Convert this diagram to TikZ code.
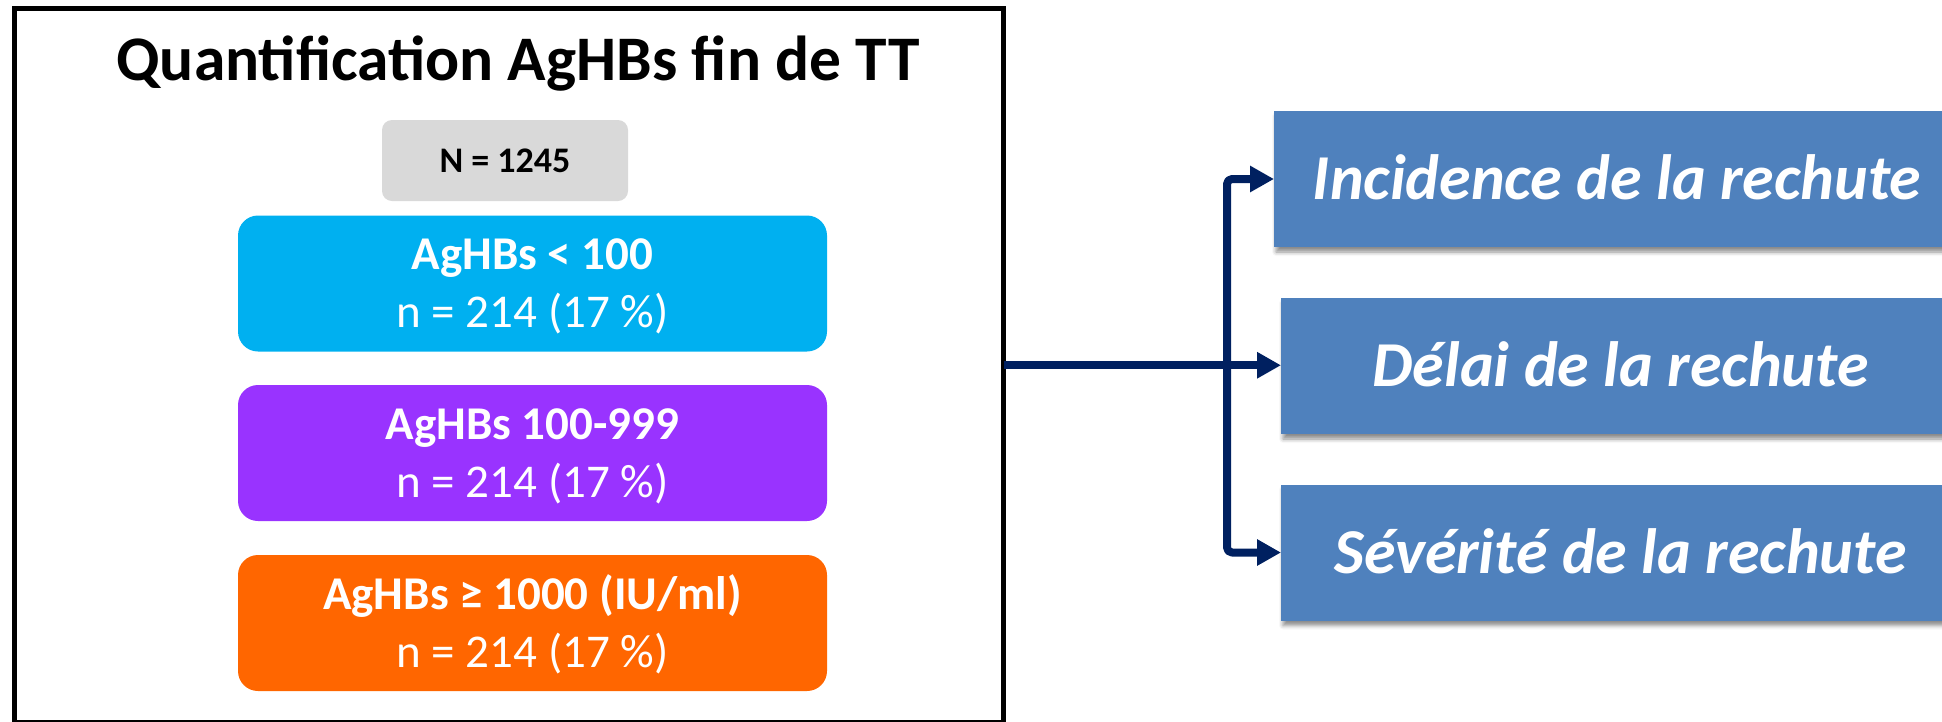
\documentclass[tikz,border=0pt]{standalone}
\usepackage{fontspec}
\setmainfont{Carlito}
\usetikzlibrary{arrows.meta,shadows.blur}
\definecolor{cgray}{HTML}{D9D9D9}
\definecolor{ccyan}{HTML}{00B0F0}
\definecolor{cpurple}{HTML}{9933FF}
\definecolor{corange}{HTML}{FF6600}
\definecolor{cblue}{HTML}{4F81BD}
\definecolor{cnavy}{HTML}{002060}
\tikzset{
  catbox/.style={rounded corners=20pt, minimum width=589pt, minimum height=136pt,
    inner sep=0pt, outer sep=0pt, text=white, align=center,
    font=\fontsize{47}{58}\selectfont, text height=88pt, text depth=0pt},
  outbox/.style={fill=cblue, minimum height=136pt, inner sep=0pt, outer sep=0pt,
    text=white, font=\fontsize{64}{76}\selectfont\bfseries\itshape,
    text height=41pt, text depth=0pt,
    blur shadow={shadow xshift=2pt, shadow yshift=-5pt, shadow blur radius=4pt, shadow opacity=45}},
  conn/.style={draw=cnavy, line width=8pt, line join=round},
  tip/.style={-{Triangle[length=24pt,width=25pt]}}
}
\begin{document}
\begin{tikzpicture}[x=1pt,y=-1pt]
\useasboundingbox (0,0) rectangle (1942,721);
% outer frame
\node[draw=black, line width=5pt, minimum width=989pt, minimum height=713.5pt,
  inner sep=0pt, outer sep=0pt] (outer) at (509,365.25) {};
\node[anchor=base, font=\fontsize{63.5}{76}\selectfont\bfseries] (title) at (518,80)
  {Quantification AgHBs fin de TT};
\node[fill=cgray, rounded corners=10pt, minimum width=246pt, minimum height=81pt,
  inner sep=0pt, font=\fontsize{36}{43}\selectfont\bfseries, text height=23pt, text depth=0pt]
  (ntot) at (505,160.5) {N = 1245};
\node[catbox, fill=ccyan] (c1) at (532.5,283.5) {{\bfseries AgHBs < 100}\\n = 214 (17 \%)};
\node[catbox, fill=cpurple] (c2) at (532.5,453) {{\bfseries AgHBs 100-999}\\n = 214 (17 \%)};
\node[catbox, fill=corange] (c3) at (532.5,623) {{\bfseries AgHBs ≥ 1000 (IU/ml)}\\n = 214 (17 \%)};
% outcome boxes
\node[outbox, minimum width=686pt] (o1) at (1617,179) {Incidence de la rechute};
\node[outbox, minimum width=679pt] (o2) at (1620.5,366) {Délai de la rechute};
\node[outbox, minimum width=679pt] (o3) at (1620.5,552.5) {Sévérité de la rechute};
% connectors
\coordinate (split) at (1227,366);
\draw[conn, tip] (outer.east) -- (outer.east -| o2.west);
\draw[conn, tip, rounded corners=5pt] (split) |- (o1.west);
\draw[conn, tip, rounded corners=5pt] (split) |- (o3.west);
\end{tikzpicture}
\end{document}
